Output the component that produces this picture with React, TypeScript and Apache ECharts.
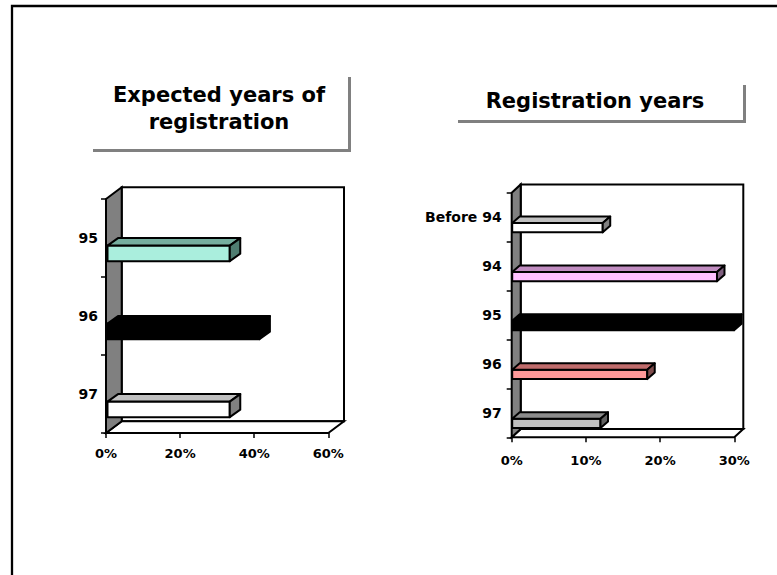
import React, { useEffect, useRef } from 'react';
import * as echarts from 'echarts';

// ---- data ----
const leftCategories = ['95', '96', '97'];
const leftValues = [33, 41, 33];
const rightCategories = ['Before 94', '94', '95', '96', '97'];
const rightValues = [12.2, 27.6, 29.9, 18.2, 11.9];
const leftTitle = 'Expected years of\nregistration';
const rightTitle = 'Registration years';
const leftAxisMax = 60;
const leftAxisStep = 20;
const rightAxisMax = 30;
const rightAxisStep = 10;

// ---- styles ----
const leftColors = [
  { front: '#aaeedd', top: '#76ae9f', side: '#4f7d71' },
  { front: '#000000', top: '#000000', side: '#000000' },
  { front: '#ffffff', top: '#c0c0c0', side: '#808080' },
];
const rightColors = [
  { front: '#ffffff', top: '#c0c0c0', side: '#808080' },
  { front: '#ffc0ff', top: '#c08cc0', side: '#806080' },
  { front: '#000000', top: '#000000', side: '#000000' },
  { front: '#ff9999', top: '#c06c6c', side: '#804d4d' },
  { front: '#c0c0c0', top: '#8c8c8c', side: '#606060' },
];

const FONT = 'DejaVu Sans';

function wallRender(D: number[]) {
  return (params: any) => {
    const cs = params.coordSys;
    const x = cs.x, y = cs.y, w = cs.width, h = cs.height;
    const st = { stroke: '#000', lineWidth: 2, lineJoin: 'miter' };
    return {
      type: 'group',
      children: [
        {
          type: 'polygon',
          shape: { points: [[x + D[0], y + D[1]], [x + w + D[0], y + D[1]], [x + w + D[0], y + h + D[1]], [x + D[0], y + h + D[1]]] },
          style: { ...st, fill: '#ffffff' },
        },
        {
          type: 'polygon',
          shape: { points: [[x, y + h], [x + w, y + h], [x + w + D[0], y + h + D[1]], [x + D[0], y + h + D[1]]] },
          style: { ...st, fill: '#ffffff' },
        },
        {
          type: 'polygon',
          shape: { points: [[x, y], [x + D[0], y + D[1]], [x + D[0], y + h + D[1]], [x, y + h]] },
          style: { ...st, fill: '#808080' },
        },
      ],
    };
  };
}

function barRender(cfg: { off: number; h: number; sx: number; sy: number; d: number[] }, colors: any[]) {
  return (params: any, api: any) => {
    const v = api.value(0);
    const idx = api.value(1);
    const p0 = api.coord([0, idx]);
    const p1 = api.coord([v, idx]);
    const band = api.size([0, 1])[1];
    const cy = p0[1] + cfg.off * band;
    const hb = cfg.h * band;
    const x0 = p0[0] + cfg.sx, x1 = p1[0] + cfg.sx;
    const yt = cy - hb / 2 + cfg.sy, yb = cy + hb / 2 + cfg.sy;
    const dx = cfg.d[0], dy = cfg.d[1];
    const c = colors[idx];
    const st = { stroke: '#000', lineWidth: 2, lineJoin: 'round' };
    return {
      type: 'group',
      children: [
        { type: 'polygon', shape: { points: [[x0, yt], [x1, yt], [x1, yb], [x0, yb]] }, style: { ...st, fill: c.front } },
        { type: 'polygon', shape: { points: [[x0, yt], [x0 + dx, yt + dy], [x1 + dx, yt + dy], [x1, yt]] }, style: { ...st, fill: c.top } },
        { type: 'polygon', shape: { points: [[x1, yt], [x1 + dx, yt + dy], [x1 + dx, yb + dy], [x1, yb]] }, style: { ...st, fill: c.side } },
      ],
    };
  };
}

export default function App() {
  const ref = useRef<HTMLDivElement>(null);
  useEffect(() => {
    if (!ref.current) return;
    const chart = echarts.init(ref.current, null, { renderer: 'svg' });
    const labelX = { color: '#000', fontFamily: FONT, fontWeight: 'bold', fontSize: 13 };
    const labelY = { color: '#000', fontFamily: FONT, fontWeight: 'bold', fontSize: 14 };
    const tick = { show: true, length: 5, lineStyle: { color: '#000', width: 1.5 } };
    chart.setOption({
      animation: false,
      backgroundColor: '#ffffff',
      grid: [
        { left: 106, top: 199, width: 222.3, height: 234 },
        { left: 511.7, top: 192.7, width: 222.6, height: 244.6 },
      ],
      xAxis: [
        {
          gridIndex: 0, type: 'value', min: 0, max: leftAxisMax, interval: leftAxisStep,
          axisLine: { show: false }, axisTick: tick, splitLine: { show: false },
          axisLabel: { ...labelX, margin: 14, formatter: '{value}%' },
        },
        {
          gridIndex: 1, type: 'value', min: 0, max: rightAxisMax, interval: rightAxisStep,
          axisLine: { show: false }, axisTick: tick, splitLine: { show: false },
          axisLabel: { ...labelX, margin: 17, formatter: '{value}%' },
        },
      ],
      yAxis: [
        {
          gridIndex: 0, type: 'category', data: leftCategories, inverse: true,
          axisLine: { show: false }, axisTick: tick, splitLine: { show: false },
          axisLabel: { ...labelY, margin: 8 },
        },
        {
          gridIndex: 1, type: 'category', data: rightCategories, inverse: true,
          axisLine: { show: false }, axisTick: tick, splitLine: { show: false },
          axisLabel: { ...labelY, margin: 10 },
        },
      ],
      series: [
        {
          type: 'custom', xAxisIndex: 0, yAxisIndex: 0, z: 1, silent: true,
          data: [[0, 0]], renderItem: wallRender([15.7, -11.7]),
        },
        {
          type: 'custom', xAxisIndex: 0, yAxisIndex: 0, z: 2,
          data: leftValues.map((v, i) => [v, i]),
          encode: { x: 0, y: 1 },
          renderItem: barRender({ off: 0.21, h: 0.2, sx: 1.5, sy: -1, d: [10.5, -7.5] }, leftColors),
        },
        {
          type: 'custom', xAxisIndex: 1, yAxisIndex: 1, z: 1, silent: true,
          data: [[0, 0]], renderItem: wallRender([9, -8.3]),
        },
        {
          type: 'custom', xAxisIndex: 1, yAxisIndex: 1, z: 2,
          data: rightValues.map((v, i) => [v, i]),
          encode: { x: 0, y: 1 },
          renderItem: barRender({ off: 0.215, h: 0.19, sx: 0.5, sy: 0, d: [7.5, -6.5] }, rightColors),
        },
      ],
      graphic: [
        { type: 'polyline', shape: { points: [[12, 600], [12, 6], [800, 6]] }, style: { stroke: '#000', lineWidth: 2.3, fill: null } },
        { type: 'rect', shape: { x: 93, y: 77, width: 258, height: 75 }, style: { fill: '#808080' } },
        { type: 'rect', shape: { x: 90, y: 74, width: 258, height: 75 }, style: { fill: '#ffffff' } },
        {
          type: 'text', x: 219, y: 108,
          style: { text: leftTitle, fontFamily: FONT, fontWeight: 'bold', fontSize: 21, fill: '#000', align: 'center', verticalAlign: 'middle', lineHeight: 27 },
        },
        { type: 'rect', shape: { x: 458, y: 85, width: 288, height: 38 }, style: { fill: '#808080' } },
        { type: 'rect', shape: { x: 455, y: 82, width: 288, height: 38 }, style: { fill: '#ffffff' } },
        {
          type: 'text', x: 595, y: 101,
          style: { text: rightTitle, fontFamily: FONT, fontWeight: 'bold', fontSize: 21, fill: '#000', align: 'center', verticalAlign: 'middle' },
        },
      ],
    });
    return () => chart.dispose();
  }, []);
  return <div ref={ref} style={{ position: 'fixed', left: 0, top: 0, width: 777, height: 575 }} />;
}
